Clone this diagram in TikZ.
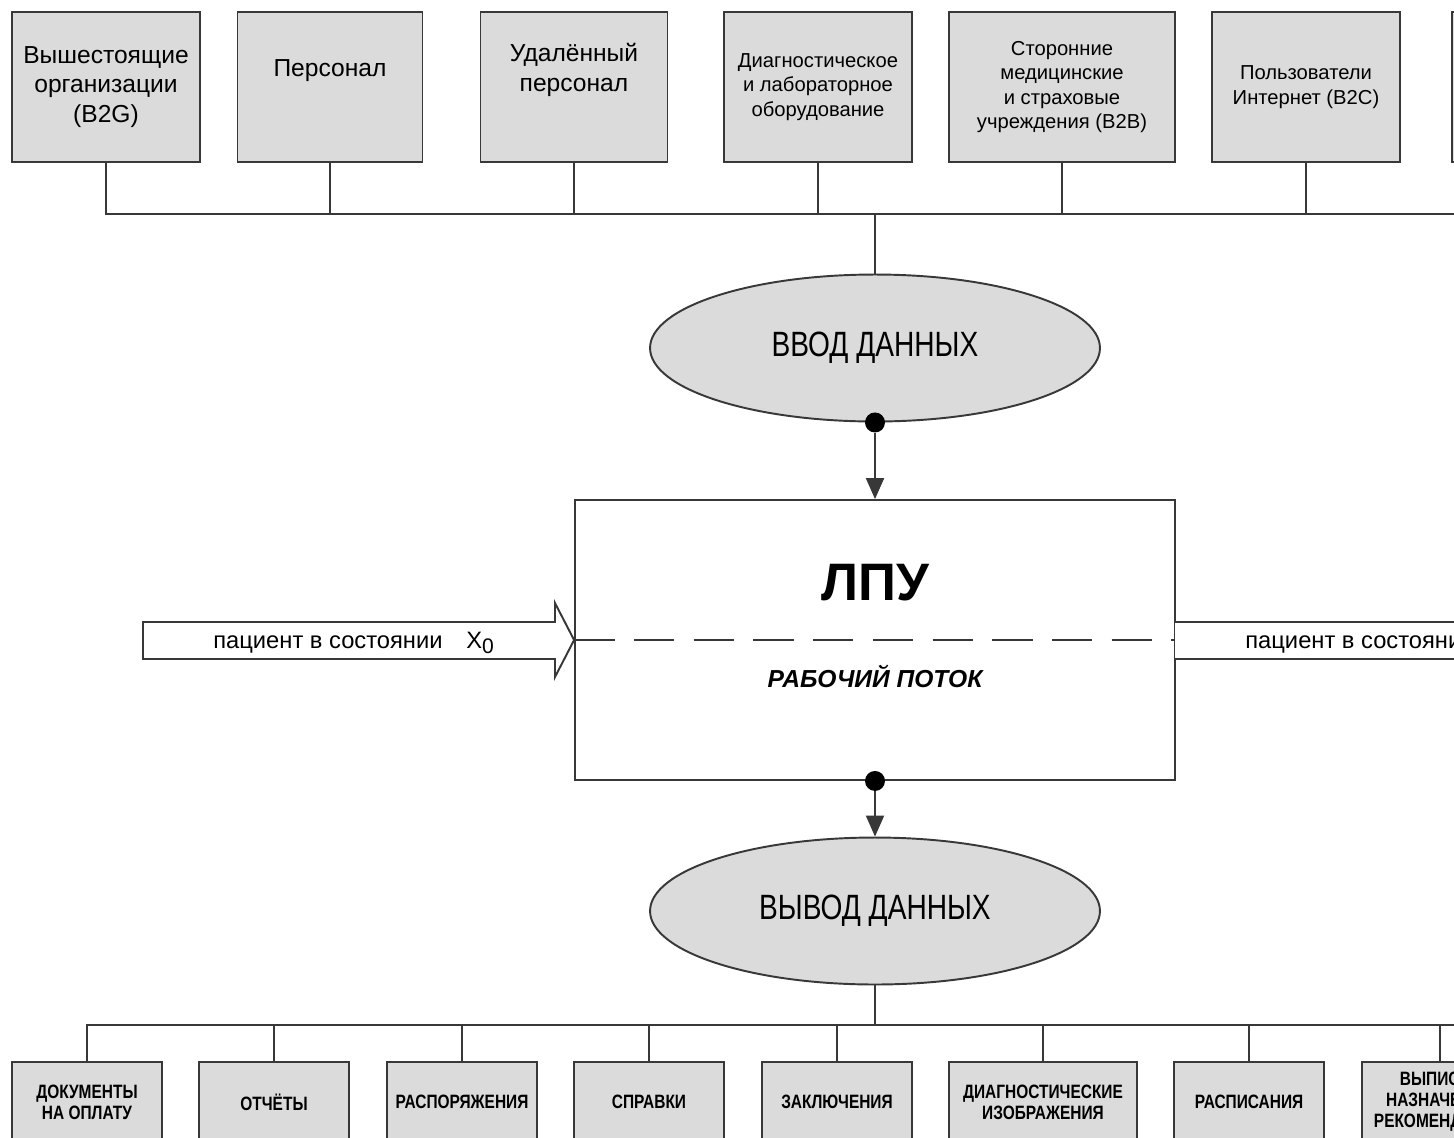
\documentclass[tikz,border=0pt]{standalone}
\usepackage{fontspec}
\setmainfont{Liberation Sans}
\newfontfamily\narrowsf[FakeStretch=0.8]{Liberation Sans}
\usetikzlibrary{positioning, shapes.geometric, arrows.meta, calc}
\definecolor{boxgray}{rgb}{0.86, 0.86, 0.86}
\definecolor{linegray}{rgb}{0.22, 0.22, 0.22}

\begin{document}
\begin{tikzpicture}[x=0.02cm, y=-0.02cm,
    topbox/.style={draw=linegray, fill=boxgray, line width=1.1pt, minimum width=3.76cm, minimum height=3cm, align=center, inner sep=1pt},
    outbox/.style={draw=linegray, fill=boxgray, line width=1.1pt, minimum width=3cm, minimum height=1.6cm, align=center, inner sep=1pt, font=\narrowsf\bfseries\fontsize{11}{12}\selectfont},
    bigtext/.style={font=\fontsize{14}{17}\selectfont},
    smalltext/.style={font=\fontsize{11.5}{14}\selectfont},
    dataell/.style={ellipse, draw=linegray, fill=boxgray, line width=1.1pt, minimum width=9cm, minimum height=2.94cm, inner sep=0pt, font=\narrowsf\fontsize{20}{24}\selectfont},
    conn/.style={draw=linegray, line width=1.1pt},
    dot/.style={circle, fill=black, inner sep=0pt, minimum size=0.4cm},
    patient/.style={anchor=base west, inner sep=0pt, font=\fontsize{13.5}{16}\selectfont}
]
    \useasboundingbox (0,0) rectangle (1454,1137);
    \fill[white] (0,0) rectangle (1454,1137);
    \clip (0,0) rectangle (1454,1137);

    \node[topbox, bigtext] (t1) at (106,87) {Вышестоящие\\организации\\(B2G)};
    \node[topbox, bigtext, minimum width=3.7cm] (t2) at (330,87) {Персонал\\ \strut};
    \node[topbox, bigtext, minimum width=3.74cm] (t3) at (574,87) {Удалённый\\персонал\\ \strut};
    \node[topbox, smalltext] (t4) at (818,87) {Диагностическое\\и лабораторное\\оборудование};
    \node[topbox, smalltext, minimum width=4.52cm] (t5) at (1062,87) {Сторонние\\медицинские\\и страховые\\учреждения (B2B)};
    \node[topbox, smalltext] (t6) at (1306,87) {Пользователи\\Интернет (B2C)};
    \node[topbox] (t7) at (1546,87) {};

    \node[dataell] (in) at (875,348) {ВВОД ДАННЫХ};
    \coordinate (inbus) at (875,214);
    \draw[conn] (t1.south) -- (t1.south |- inbus) -- (t7.south |- inbus) -- (t7.south);
    \foreach \n in {t2,t3,t4,t5,t6}
        \draw[conn] (\n.south) -- (\n.south |- inbus);
    \draw[conn] (inbus) -- (in.north);

    \node[draw=linegray, line width=1.1pt, fill=white, minimum width=12cm, minimum height=5.6cm] (lpu) at (875,640) {};
    \node[font=\bfseries\fontsize{30}{36}\selectfont] (lpuname) at (875,583) {ЛПУ};
    \node[font=\bfseries\itshape\fontsize{14}{17}\selectfont] (flow) at (875,676) {РАБОЧИЙ ПОТОК};
    \draw[conn, dash pattern=on 23pt off 11pt] (lpu.west) -- (lpu.east);

    \draw[conn, fill=white] (143,622) -- (555,622) -- (555,603) -- (lpu.west) -- (555,677) -- (555,659) -- (143,659) -- cycle;
    \node[patient] (xin) at (213,648) {пациент в состоянии\quad X\raisebox{-0.45ex}{\fontsize{12}{12}\selectfont 0}};
    \draw[conn, fill=white] (1175,622) -- (1587,622) -- (1587,603) -- (1607,640) -- (1587,677) -- (1587,659) -- (1175,659);
    \node[patient] (xout) at (1245,648) {пациент в состоянии};

    \node[dot] (din) at (in.south) {};
    \draw[conn, -{Triangle[length=0.42cm, width=0.36cm]}] (din) -- (lpu.north);

    \node[dataell] (out) at (875,911) {ВЫВОД ДАННЫХ};
    \node[dot] (dout) at (lpu.south) {};
    \draw[conn, -{Triangle[length=0.42cm, width=0.36cm]}] (dout) -- (out.north);

    \node[outbox] (b1) at (87,1102) {ДОКУМЕНТЫ\\НА ОПЛАТУ};
    \node[outbox] (b2) at (274,1102) {ОТЧЁТЫ};
    \node[outbox] (b3) at (462,1102) {РАСПОРЯЖЕНИЯ};
    \node[outbox] (b4) at (649,1102) {СПРАВКИ};
    \node[outbox] (b5) at (837,1102) {ЗАКЛЮЧЕНИЯ};
    \node[outbox, minimum width=3.76cm] (b6) at (1043,1102) {ДИАГНОСТИЧЕСКИЕ\\ИЗОБРАЖЕНИЯ};
    \node[outbox] (b7) at (1249,1102) {РАСПИСАНИЯ};
    \node[outbox, minimum width=3.12cm] (b8) at (1440,1102) {ВЫПИСКИ\\НАЗНАЧЕНИЯ\\РЕКОМЕНДАЦИИ};

    \coordinate (outbus) at (875,1025);
    \coordinate (busend) at (1470,1025);
    \draw[conn] (out.south) -- (outbus);
    \draw[conn] (b1.north) -- (b1.north |- outbus) -- (busend);
    \foreach \n in {b2,b3,b4,b5,b6,b7,b8}
        \draw[conn] (\n.north) -- (\n.north |- outbus);
\end{tikzpicture}
\end{document}
